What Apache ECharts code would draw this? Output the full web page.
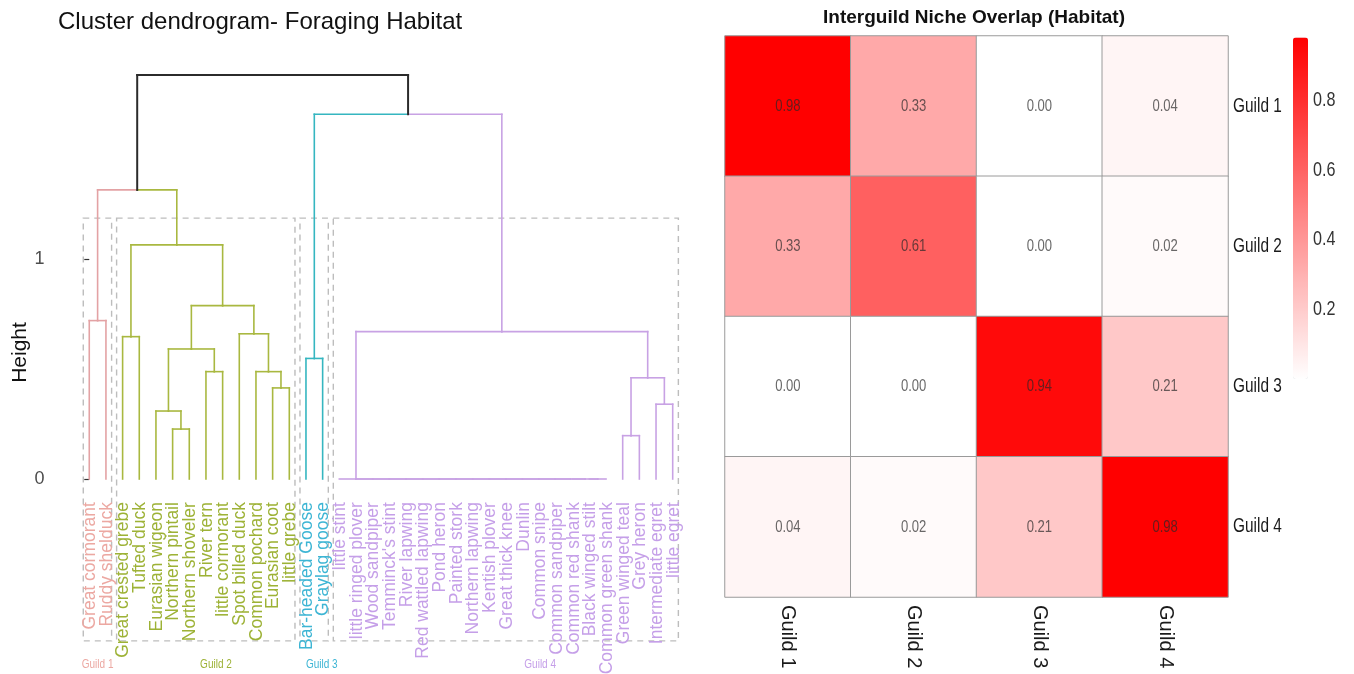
<!DOCTYPE html>
<html>
<head>
<meta charset="utf-8">
<title>Foraging habitat</title>
<script src="https://cdn.jsdelivr.net/npm/echarts@6/dist/echarts.min.js"></script>
<style>
  html, body { margin: 0; padding: 0; background: #ffffff; }
  #chart { width: 1354px; height: 674px; }
</style>
</head>
<body>
<div id="chart"></div>
<script>
// leaves, in dendrogram order
const leafNames = [
  'Great cormorant', 'Ruddy shelduck',
  'Great crested grebe', 'Tufted duck', 'Eurasian wigeon', 'Northern pintail',
  'Northern shoveler', 'River tern', 'little cormorant', 'Spot billed duck',
  'Common pochard', 'Eurasian coot', 'little grebe',
  'Bar-headed Goose', 'Graylag goose',
  'little stint', 'little ringed plover', 'Wood sandpiper', "Temminck's stint",
  'River lapwing', 'Red wattled lapwing', 'Pond heron', 'Painted stork',
  'Northern lapwing', 'Kentish plover', 'Great thick knee', 'Dunlin',
  'Common snipe', 'Common sandpiper', 'Common red shank', 'Black winged stilt',
  'Common green shank', 'Green winged teal', 'Grey heron', 'Intermediate egret',
  'little egret'
]
const leafGuild = [
  1, 1,
  2, 2, 2, 2, 2, 2, 2, 2, 2, 2, 2,
  3, 3,
  4, 4, 4, 4, 4, 4, 4, 4, 4, 4, 4, 4, 4, 4, 4, 4, 4, 4, 4, 4, 4
]

// hclust style merge table: negative = leaf (1-based), positive = earlier merge
const mergeLeft = [
  -31, -30, -29, -28, -27, -26, -25, -24, -23, -22, -21, -20, -19, -18, -17, -16,
  -6, -12, -5, -33, -35, -8, -11, 20, -14, 19, -3, -10, 16, -1, 26, 27, 30, 25, 33
]
const mergeRight = [
  -32, 1, 2, 3, 4, 5, 6, 7, 8, 9, 10, 11, 12, 13, 14, 15,
  -7, -13, 17, -34, -36, -9, 18, 21, -15, 22, -4, 23, 24, -2, 28, 31, 32, 29, 34
]
const mergeHeight = [
  0, 0, 0, 0, 0, 0, 0, 0, 0, 0, 0, 0, 0, 0, 0, 0,
  0.227, 0.414, 0.309, 0.197, 0.34, 0.488, 0.488, 0.46, 0.548, 0.591,
  0.647, 0.66, 0.67, 0.72, 0.788, 1.064, 1.314, 1.658, 1.836
]
const heightTicks = [0, 1]

// interguild overlap matrix
const guildNames = ['Guild 1', 'Guild 2', 'Guild 3', 'Guild 4']
const overlapGuild1 = [0.98, 0.33, 0.00, 0.04]
const overlapGuild2 = [0.33, 0.61, 0.00, 0.02]
const overlapGuild3 = [0.00, 0.00, 0.94, 0.21]
const overlapGuild4 = [0.04, 0.02, 0.21, 0.98]
const colorbarTicks = [0.2, 0.4, 0.6, 0.8]

const branchColors = ['#2b2b2b', '#e3a2a4', '#a9b840', '#35b6c0', '#c8a2e4']
const labelColors = ['#333333', '#eca8a2', '#9db236', '#3db5d4', '#c59fe8']
const sans = '"Liberation Sans", Arial, sans-serif'
// the right panel of the original figure is squeezed sideways
const squeeze = 0.77

// build dendrogram nodes
const leaves = leafNames.map((name, i) => ({ x: i, h: 0, guild: leafGuild[i], parent: null }))
const merges = []
function nodeOf(ref) {
  return ref < 0 ? leaves[-ref - 1] : merges[ref - 1]
}
mergeLeft.forEach((l, k) => {
  const a = nodeOf(l)
  const b = nodeOf(mergeRight[k])
  const m = {
    x: (a.x + b.x) / 2,
    h: mergeHeight[k],
    guild: a.guild === b.guild ? a.guild : 0,
    parent: null
  }
  a.parent = m
  b.parent = m
  merges.push(m)
})

// each node gets its leg and half of the parent's bar, in its own colour
const segments = []
leaves.concat(merges).forEach(n => {
  const p = n.parent
  if (!p) return
  segments.push([n.x, n.h, n.x, p.h, n.guild])
  segments.push([n.x, p.h, p.x, p.h, n.guild])
})
segments.sort((a, b) => (a[4] === 0) - (b[4] === 0))

// dashed guild boxes
const boxes = []
for (let g = 1; g <= 4; g++) {
  const idx = leafGuild.map((v, i) => v === g ? i : -1).filter(i => i >= 0)
  boxes.push([idx[0] - 0.36, idx[idx.length - 1] + 0.34, g])
}
const guildLabelX = [0.5, 7.6, 13.95, 27.05]

const leafLabelData = leafNames.map((name, i) => [i, leafGuild[i], name])
const guildLabelData = guildNames.map((name, i) => [guildLabelX[i], i + 1, name])

const overlapRows = [overlapGuild1, overlapGuild2, overlapGuild3, overlapGuild4]
const heatData = []
overlapRows.forEach((row, r) => {
  row.forEach((v, c) => heatData.push([c, r, v]))
})
const rowLabelData = guildNames.map((name, r) => [3, r, name])
const colorbarLabelData = colorbarTicks.map(v => [1, v])

function squeezedText(x, y, text, size, color, align) {
  return {
    type: 'text',
    x: x,
    y: y,
    scaleX: squeeze,
    style: {
      text: text,
      fill: color,
      fontFamily: sans,
      fontSize: size,
      align: align,
      textAlign: align,
      verticalAlign: 'middle',
      textVerticalAlign: 'middle'
    }
  }
}

const chart = echarts.init(document.getElementById('chart'))

const option = {
  animation: false,
  backgroundColor: '#ffffff',
  title: [
    {
      text: 'Cluster dendrogram- Foraging Habitat',
      left: 53,
      top: 5,
      textStyle: { fontFamily: sans, fontSize: 24, fontWeight: 'normal', color: '#111111' }
    },
    {
      text: 'Interguild Niche Overlap (Habitat)',
      left: 969,
      top: 3,
      textAlign: 'center',
      textStyle: { fontFamily: sans, fontSize: 19, fontWeight: 'bold', color: '#111111' }
    }
  ],
  grid: [
    { left: 52.6, top: 50, width: 645.1, height: 605 },
    { left: 725, top: 36, width: 503, height: 561 },
    { left: 1293, top: 37.6, width: 15, height: 341.4 }
  ],
  xAxis: [
    { gridIndex: 0, type: 'value', min: -2.2, max: 36.5, show: false },
    {
      gridIndex: 1,
      type: 'category',
      data: guildNames,
      position: 'bottom',
      axisLine: { show: false },
      axisTick: { show: false },
      splitLine: { show: false },
      axisLabel: {
        rotate: -90,
        margin: 8,
        fontFamily: sans,
        fontSize: 20,
        color: '#1a1a1a'
      }
    },
    { gridIndex: 2, type: 'value', min: 0, max: 1, show: false }
  ],
  yAxis: [
    {
      gridIndex: 0,
      type: 'value',
      min: -0.8,
      max: 1.95,
      name: 'Height',
      nameLocation: 'middle',
      nameRotate: 90,
      nameGap: 22,
      nameTextStyle: { fontFamily: sans, fontSize: 21, color: '#111111' },
      axisLine: { show: false },
      axisTick: { show: true, length: 5, customValues: heightTicks, lineStyle: { color: '#333333', width: 1.2 } },
      splitLine: { show: false },
      axisLabel: {
        customValues: heightTicks,
        margin: 8,
        fontFamily: sans,
        fontSize: 18,
        color: '#4d4d4d'
      }
    },
    {
      gridIndex: 1,
      type: 'category',
      data: guildNames,
      inverse: true,
      position: 'right',
      axisLine: { show: false },
      axisTick: { show: false },
      splitLine: { show: false },
      axisLabel: { show: false }
    },
    {
      gridIndex: 2,
      type: 'value',
      min: 0,
      max: 0.98,
      position: 'right',
      axisLine: { show: false },
      axisTick: { show: false },
      splitLine: { show: false },
      axisLabel: { show: false }
    }
  ],
  visualMap: {
    type: 'continuous',
    seriesIndex: 4,
    min: 0,
    max: 0.98,
    orient: 'vertical',
    left: 1293,
    top: 37.6,
    itemWidth: 15,
    itemHeight: 341.4,
    padding: 0,
    text: ['', ''],
    showLabel: false,
    calculable: false,
    hoverLink: false,
    inRange: { color: ['#ffffff', '#ff0000'] }
  },
  series: [
    {
      name: 'boxes',
      type: 'custom',
      xAxisIndex: 0,
      yAxisIndex: 0,
      clip: false,
      data: boxes,
      encode: { x: [0, 1] },
      renderItem: (params, api) => {
        const p1 = api.coord([api.value(0), 1.186])
        const p2 = api.coord([api.value(1), -0.736])
        return {
          type: 'rect',
          shape: { x: p1[0], y: p1[1], width: p2[0] - p1[0], height: p2[1] - p1[1] },
          style: { fill: null, stroke: '#bdbdbd', lineWidth: 1.4, lineDash: [6, 5] }
        }
      }
    },
    {
      name: 'branches',
      type: 'custom',
      xAxisIndex: 0,
      yAxisIndex: 0,
      clip: false,
      data: segments,
      encode: { x: [0, 2], y: [1, 3] },
      renderItem: (params, api) => {
        const p1 = api.coord([api.value(0), api.value(1)])
        const p2 = api.coord([api.value(2), api.value(3)])
        const g = api.value(4)
        return {
          type: 'line',
          shape: { x1: p1[0], y1: p1[1], x2: p2[0], y2: p2[1] },
          style: { stroke: branchColors[g], lineWidth: g === 0 ? 2 : 1.6, lineCap: 'square' }
        }
      }
    },
    {
      name: 'leaf labels',
      type: 'custom',
      xAxisIndex: 0,
      yAxisIndex: 0,
      clip: false,
      data: leafLabelData,
      encode: { x: 0 },
      renderItem: (params, api) => {
        const item = leafLabelData[params.dataIndex]
        const p = api.coord([item[0], -0.105])
        return {
          type: 'text',
          x: p[0] + 1,
          y: p[1],
          rotation: Math.PI / 2,
          style: {
            text: item[2],
            fill: labelColors[item[1]],
            fontFamily: sans,
            fontSize: 17.5,
            align: 'right',
            textAlign: 'right',
            verticalAlign: 'middle',
            textVerticalAlign: 'middle'
          }
        }
      }
    },
    {
      name: 'guild labels',
      type: 'custom',
      xAxisIndex: 0,
      yAxisIndex: 0,
      clip: false,
      data: guildLabelData,
      encode: { x: 0 },
      renderItem: (params, api) => {
        const item = guildLabelData[params.dataIndex]
        const p = api.coord([item[0], -0.84])
        const el = squeezedText(p[0], p[1] + 1, item[2], 13, labelColors[item[1]], 'center')
        return el
      }
    },
    {
      name: 'overlap',
      type: 'heatmap',
      xAxisIndex: 1,
      yAxisIndex: 1,
      data: heatData,
      itemStyle: { borderColor: '#9a9a9a', borderWidth: 1 },
      label: { show: false },
      emphasis: { disabled: true }
    },
    {
      name: 'cell values',
      type: 'custom',
      xAxisIndex: 1,
      yAxisIndex: 1,
      data: heatData,
      renderItem: (params, api) => {
        const p = api.coord([api.value(0), api.value(1)])
        return squeezedText(p[0], p[1], api.value(2).toFixed(2), 17, 'rgba(40, 40, 40, 0.7)', 'center')
      }
    },
    {
      name: 'row labels',
      type: 'custom',
      xAxisIndex: 1,
      yAxisIndex: 1,
      clip: false,
      data: rowLabelData,
      renderItem: (params, api) => {
        const item = rowLabelData[params.dataIndex]
        const p = api.coord([item[0], item[1]])
        const size = api.size([1, 1])
        return squeezedText(p[0] + size[0] / 2 + 5, p[1], item[2], 20, '#1a1a1a', 'left')
      }
    },
    {
      name: 'colorbar labels',
      type: 'custom',
      xAxisIndex: 2,
      yAxisIndex: 2,
      clip: false,
      data: colorbarLabelData,
      encode: { x: 0, y: 1 },
      renderItem: (params, api) => {
        const p = api.coord([api.value(0), api.value(1)])
        return squeezedText(p[0] + 5, p[1], api.value(1).toFixed(1), 21, '#333333', 'left')
      }
    }
  ]
}

chart.setOption(option)

window.addEventListener('resize', () => {
  chart.resize()
})
</script>
</body>
</html>
